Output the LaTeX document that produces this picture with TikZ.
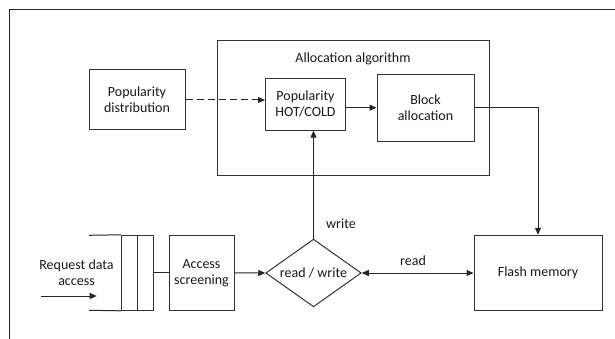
\documentclass[tikz,border=0pt]{standalone}
\usepackage{fontspec}
\setmainfont{Carlito}
\usetikzlibrary{shapes.geometric,arrows.meta}
\begin{document}
\begin{tikzpicture}[x=1pt,y=-1pt,
  every node/.style={font=\fontsize{14}{16}\selectfont, align=center, inner sep=0pt, text=black!90},
  box/.style={draw=black!80, line width=1pt, rectangle},
  link/.style={draw=black!85, line width=1pt},
  tip/.style={-{Triangle[length=7pt,width=6pt]}},
  dtip/.style={{Triangle[length=7pt,width=6pt]}-{Triangle[length=7pt,width=6pt]}}]
\useasboundingbox (0,0) rectangle (615,339);
% outer frame: top and left edges
\draw[line width=1pt, draw=black!85] (9,345) -- (9,10) -- (620,10);

% allocation algorithm group
\node[box, minimum width=272pt, minimum height=134.6pt] (alg) at (353,108) {};
\node (algt) at (353,58.7) {Allocation algorithm};
\node[box, minimum width=96pt, minimum height=60pt] (pd) at (137,100) {Popularity\\distribution};
\node[box, minimum width=80pt, minimum height=52pt] (hc) at (305.5,104.2) {Popularity\\HOT/COLD};
\node[box, minimum width=97pt, minimum height=67pt] (blk) at (425.5,107.7) {Block\\allocation};

% lower row
\node[box, minimum width=128pt, minimum height=75pt] (fm) at (538,272.8) {Flash memory};
\node[draw=black!80, diamond, line width=1pt, aspect=1.41, minimum width=95.5pt, minimum height=67.7pt] (rw) at (313.5,273) {read / write};
\node[box, minimum width=65pt, minimum height=75pt] (acc) at (201.5,272.8) {Access\\screening};
\node[box, minimum width=16pt, minimum height=75pt] (q1) at (129.3,272.8) {};
\node[box, minimum width=16pt, minimum height=75pt] (q2) at (145.3,272.8) {};
\coordinate (qt) at (89,235.3);
\coordinate (qb) at (89,310.3);
\node (req) at (76.5,273) {Request data\\access};
\coordinate (in0) at (40.7,296);
\coordinate (in1) at (96.7,296);

% connectors
\draw[link] (qt) -- (q1.north west);
\draw[link] (qb) -- (q1.south west);
\draw[link, tip] (in0) -- (in1);
\draw[link] (q2.east) -- (acc.west);
\draw[link, tip] (acc.east) -- (rw.west);
\draw[link, dtip] (rw.east) -- (rw.east -| fm.west);
\draw[link, tip] (rw.north) -- (rw.north |- hc.south);
\draw[link, dashed, dash pattern=on 7pt off 4pt, tip] (pd.east) -- (pd.east -| hc.west);
\draw[link, tip] (blk.west -| hc.east) -- (blk.west);
\draw[link, tip] (blk.east) -| (fm.north);

% labels
\node at (341,223.7) {write};
\node at (413,261) {read};
\end{tikzpicture}
\end{document}
